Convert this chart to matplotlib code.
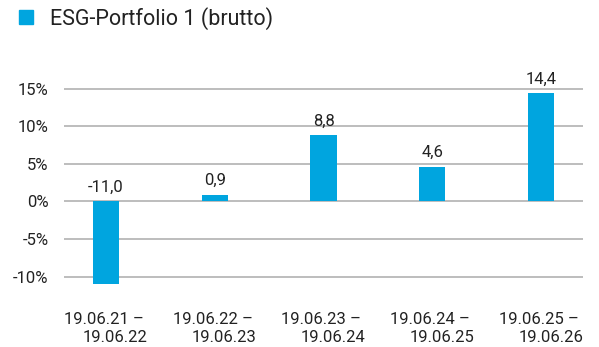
import matplotlib
matplotlib.use("Agg")
import matplotlib.pyplot as plt
from matplotlib.patches import Patch

plt.rcParams['font.family'] = ['Roboto', 'DejaVu Sans']

# Data
periods = ["19.06.21 – \n19.06.22", "19.06.22 – \n19.06.23", "19.06.23 – \n19.06.24",
           "19.06.24 – \n19.06.25", "19.06.25 – \n19.06.26"]
returns = [-11.0, 0.9, 8.8, 4.6, 14.4]
y_ticks = [-10, -5, 0, 5, 10, 15]
series_name = "ESG-Portfolio 1 (brutto)"

bar_color = "#00A5DF"
text_color = "#222222"
grid_color = "#BDBDBD"

W, H = 599, 347
fig = plt.figure(figsize=(W / 100, H / 100), dpi=100)

ymin, ymax = -11.5, 15.5
top_px = 84.9
bot_px = 287.9
ax = fig.add_axes([64 / W, (H - bot_px) / H, (583 - 64) / W, (bot_px - top_px) / H])

x = list(range(len(returns)))
ax.bar(x, returns, width=0.24, color=bar_color, zorder=3)

for xi, v in zip(x, returns):
    ax.annotate(f"{v:.1f}".replace(".", ","), (xi, max(v, 0)),
                xytext=(0, 7), textcoords="offset points",
                ha="center", va="baseline", fontsize=12, color=text_color)

ax.set_xlim(-0.386, 4.386)
ax.set_ylim(ymin, ymax)
ax.set_yticks(y_ticks)
ax.set_yticklabels([f"{t}%" for t in y_ticks])
ax.set_xticks(x)
ax.set_xticklabels(periods, multialignment="right", linespacing=1.3)

ax.yaxis.grid(True, color=grid_color, linewidth=1.4, zorder=0)
ax.set_axisbelow(True)
for s in ax.spines.values():
    s.set_visible(False)
ax.tick_params(axis="both", length=0, labelsize=12, labelcolor=text_color)
ax.tick_params(axis="y", pad=11)
ax.tick_params(axis="x", pad=17)

handle = Patch(color=bar_color)
fig.legend([handle], [series_name], loc="center left",
           bbox_to_anchor=(19 / W, 1 - 18.5 / H), frameon=False,
           fontsize=15.5, handlelength=0.63, handleheight=0.63,
           handletextpad=0.82, labelcolor=text_color, borderpad=0,
           borderaxespad=0)

fig.savefig("out.png", dpi=100, facecolor="white")
